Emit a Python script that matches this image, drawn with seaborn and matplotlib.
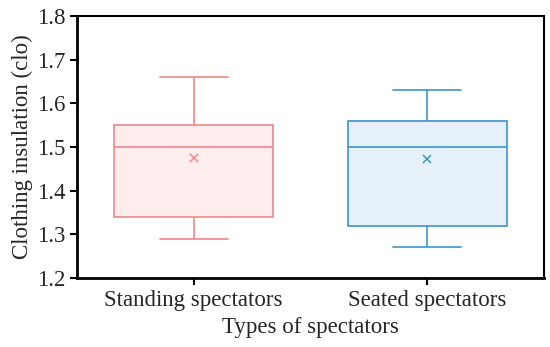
import pandas as pd
import matplotlib.pyplot as plt
import seaborn as sns

# --- DATA (sample values read so the quartiles/whiskers/means match the figure) ---
categories = ['Standing spectators', 'Seated spectators']
standing_clo = [1.29, 1.33, 1.34, 1.48, 1.50, 1.52, 1.55, 1.61, 1.66]
seated_clo = [1.27, 1.31, 1.32, 1.49, 1.50, 1.55, 1.56, 1.62, 1.63]

edge_colors = ['#F0868A', '#3D95CB']
fill_colors = ['#FDEDED', '#E6F0F8']

df = pd.DataFrame({
    'type': [categories[0]] * len(standing_clo) + [categories[1]] * len(seated_clo),
    'clo': standing_clo + seated_clo,
})

sns.set_style('ticks')
plt.rcParams['font.family'] = ['Liberation Serif', 'DejaVu Serif']

fig = plt.figure(figsize=(5.5, 3.47), dpi=100)
ax = fig.add_axes([0.14, 0.199, 0.849, 0.755])

for cat, edge, fill in zip(categories, edge_colors, fill_colors):
    sns.boxplot(data=df[df['type'] == cat], x='type', y='clo', order=categories,
                color=fill, linecolor=edge, linewidth=1.2, width=0.68,
                showmeans=True, capwidths=0.29, saturation=1, ax=ax,
                meanprops=dict(marker='x', markeredgecolor=edge, markersize=5.5,
                               markeredgewidth=1.1),
                medianprops=dict(color=edge, linewidth=1.2))

ax.set_ylim(1.2, 1.8)
ax.set_xlim(-0.5, 1.5)
ax.set_yticks([1.2, 1.3, 1.4, 1.5, 1.6, 1.7, 1.8])
ax.set_ylabel('Clothing insulation (clo)', fontsize=16.5, labelpad=3)
ax.set_xlabel('Types of spectators', fontsize=16.5, labelpad=4)
ax.tick_params(axis='both', labelsize=16.5, length=5, width=1.5, color='black', pad=3)
ax.tick_params(axis='x', pad=4)
for side in ['left', 'bottom', 'top', 'right']:
    ax.spines[side].set_visible(True)
    ax.spines[side].set_linewidth(1.5)
    ax.spines[side].set_color('black')
ax.spines['left'].set_linewidth(2)
ax.spines['bottom'].set_linewidth(2)

plt.savefig('out.png', dpi=100)
